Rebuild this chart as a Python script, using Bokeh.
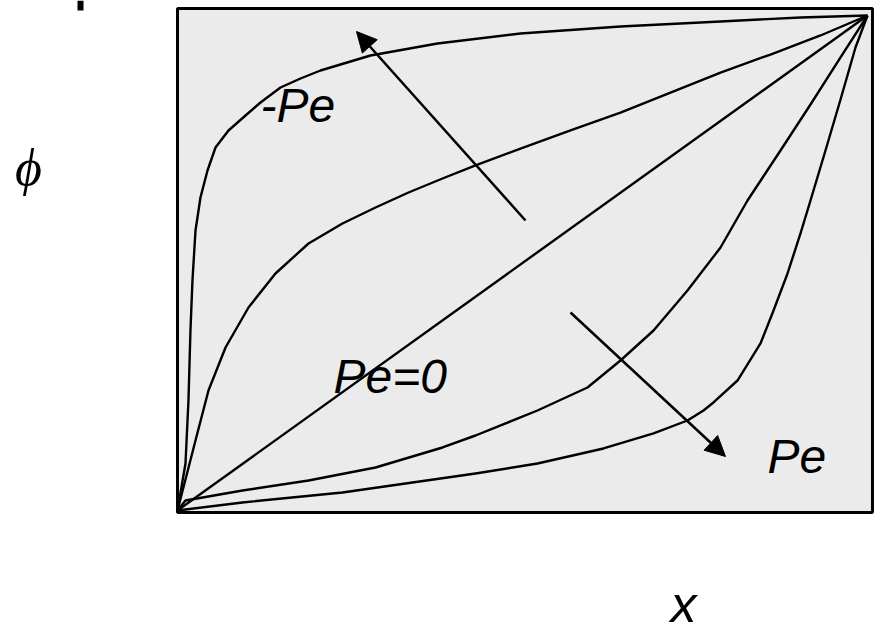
from bokeh.plotting import figure
from bokeh.models import Range1d, Arrow, NormalHead, Label
from bokeh.embed import file_html
from bokeh.resources import INLINE

# Dimensionless profiles phi(x) for several Peclet numbers, read as points
pe_neg_strong_x = [0, 0.0116, 0.0159, 0.0188, 0.0217, 0.0261, 0.0333, 0.0435, 0.0551,
                   0.0739, 0.0986, 0.1203, 0.1493, 0.1783, 0.2072, 0.2797, 0.3768,
                   0.4971, 0.6420, 0.7870, 0.9029, 1.0]
pe_neg_strong_phi = [0, 0.0949, 0.2222, 0.3636, 0.4646, 0.5657, 0.6323, 0.6869, 0.7333,
                     0.7677, 0.7980, 0.8242, 0.8545, 0.8727, 0.8889, 0.9192, 0.9434,
                     0.9636, 0.9778, 0.9879, 0.9960, 1.0]

pe_neg_x = [0, 0.0261, 0.0449, 0.0696, 0.1029, 0.1420, 0.1899, 0.2391, 0.2870, 0.3348,
            0.3841, 0.4319, 0.4971, 0.5696, 0.6420, 0.7145, 0.7870, 0.8594, 0.9319, 1.0]
pe_neg_phi = [0, 0.1414, 0.2424, 0.3293, 0.4101, 0.4788, 0.5394, 0.5798, 0.6121, 0.6424,
              0.6707, 0.6970, 0.7313, 0.7677, 0.8040, 0.8444, 0.8848, 0.9212, 0.9596, 1.0]

pe_zero_x = [0, 1.0]
pe_zero_phi = [0, 1.0]

pe_pos_x = [0, 0.0116, 0.0942, 0.1899, 0.2870, 0.3841, 0.4319, 0.5217, 0.5942, 0.6420,
            0.6899, 0.7391, 0.7870, 0.8261, 0.8739, 0.9174, 0.9609, 1.0]
pe_pos_phi = [0, 0.0202, 0.0404, 0.0606, 0.0869, 0.1273, 0.1515, 0.2020, 0.2485, 0.3030,
              0.3636, 0.4444, 0.5313, 0.6263, 0.7273, 0.8202, 0.9152, 1.0]

pe_pos_strong_x = [0, 0.0942, 0.2391, 0.4319, 0.5217, 0.6174, 0.6899, 0.7391, 0.7623,
                   0.7768, 0.8116, 0.8449, 0.8638, 0.8841, 0.9029, 0.9174, 0.9391,
                   0.9609, 0.9826, 1.0]
pe_pos_strong_phi = [0, 0.0162, 0.0364, 0.0747, 0.0949, 0.1253, 0.1556, 0.1818, 0.2020,
                     0.2182, 0.2626, 0.3374, 0.4040, 0.4788, 0.5596, 0.6263, 0.7273,
                     0.8303, 0.9354, 1.0]

curves = [
    (pe_neg_strong_x, pe_neg_strong_phi),
    (pe_neg_x, pe_neg_phi),
    (pe_zero_x, pe_zero_phi),
    (pe_pos_x, pe_pos_phi),
    (pe_pos_strong_x, pe_pos_strong_phi),
]

p = figure(width=876, height=633,
           x_range=Range1d(-0.2565, 1.01304), y_range=Range1d(-0.2485, 1.0303),
           x_axis_location=None, y_axis_location=None,
           toolbar_location=None, output_backend="svg", min_border=0)
p.grid.visible = False
p.outline_line_color = None
p.background_fill_color = "white"
p.border_fill_color = "white"

# domain box
p.quad(left=[0], right=[1.0072], bottom=[-0.004], top=[1.0141],
       fill_color="#ebebeb", line_color="black", line_width=3)

for xs, ys in curves:
    p.line(xs, ys, line_color="black", line_width=2.4, line_join="round")

# direction arrows
p.add_layout(Arrow(x_start=0.5043, y_start=0.5859, x_end=0.2594, y_end=0.9677,
                   line_width=2.5, line_color="black",
                   end=NormalHead(size=20, fill_color="black", line_color="black")))
p.add_layout(Arrow(x_start=0.5696, y_start=0.4000, x_end=0.7942, y_end=0.1091,
                   line_width=2.5, line_color="black",
                   end=NormalHead(size=20, fill_color="black", line_color="black")))

font = "Liberation Sans"
for txt, tx, ty in [("-Pe", 0.1203, 0.8182), ("Pe=0", 0.2261, 0.2707), ("Pe", 0.8551, 0.1091)]:
    p.add_layout(Label(x=tx, y=ty, text=txt, text_font=font, text_font_style="italic",
                       text_font_size="48px", text_align="left",
                       text_baseline="alphabetic", text_color="black"))

p.add_layout(Label(x=-0.2159, y=0.693, text="ϕ", text_font="Liberation Serif",
                   text_font_style="italic", text_font_size="52px", text_align="center",
                   text_baseline="alphabetic", text_color="black"))
p.add_layout(Label(x=0.7145, y=-0.1899, text="x", text_font=font, text_font_style="italic",
                   text_font_size="52px", text_align="left",
                   text_baseline="alphabetic", text_color="black"))

# small mark at the upper left
p.quad(left=[-0.1449], right=[-0.1362], bottom=[1.0101], top=[1.0303],
       fill_color="black", line_color=None)

open("out.html", "w").write(file_html(p, INLINE))
